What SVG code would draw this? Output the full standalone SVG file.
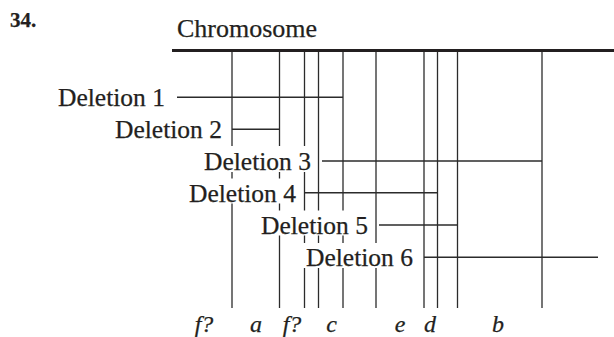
<svg xmlns="http://www.w3.org/2000/svg" width="614" height="337" viewBox="0 0 614 337">
<style>
.t{font-family:"Liberation Serif","Times New Roman",serif;fill:#231f20;stroke:#231f20;stroke-width:0.25}
.lab{font-size:25.5px}
.it{font-size:24px;font-style:italic;text-anchor:middle}
.v{stroke:#2b2b2b;stroke-width:1.3;fill:none}
.h{stroke:#2b2b2b;stroke-width:1.4;fill:none}
.ko{fill:#ffffff}
</style>
<rect width="614" height="337" fill="#ffffff"/>
<g id="header">
<text class="t" x="10" y="27" font-size="21" font-weight="bold">34.</text>
<text class="t" x="177" y="37" font-size="26">Chromosome</text>
<line x1="172" y1="50.5" x2="614" y2="50.5" stroke="#231f20" stroke-width="3"/>
</g>
<g id="connectors">
<g id="loci">
<line class="v" x1="232" y1="52" x2="232" y2="308"/>
<line class="v" x1="279.5" y1="52" x2="279.5" y2="308"/>
<line class="v" x1="304.5" y1="52" x2="304.5" y2="308"/>
<line class="v" x1="318.5" y1="52" x2="318.5" y2="308"/>
<line class="v" x1="343" y1="52" x2="343" y2="308"/>
<line class="v" x1="376" y1="52" x2="376" y2="308"/>
<line class="v" x1="424" y1="52" x2="424" y2="308"/>
<line class="v" x1="437.5" y1="52" x2="437.5" y2="308"/>
<line class="v" x1="457.5" y1="52" x2="457.5" y2="308"/>
<line class="v" x1="542" y1="52" x2="542" y2="308"/>
</g>
<line class="h" x1="177" y1="97.3" x2="343" y2="97.3"/>
<line class="h" x1="232" y1="129.3" x2="279.5" y2="129.3"/>
<line class="h" x1="322" y1="161" x2="542" y2="161"/>
<line class="h" x1="304.5" y1="192.7" x2="437.5" y2="192.7"/>
<line class="h" x1="379" y1="225" x2="457.5" y2="225"/>
<line class="h" x1="424" y1="257.3" x2="598" y2="257.3"/>
</g>
<g id="deletion-1">
<text class="t lab" x="58" y="106">Deletion 1</text>
</g>
<g id="deletion-2">
<text class="t lab" x="115" y="138">Deletion 2</text>
</g>
<g id="deletion-3">
<rect class="ko" x="201" y="146" width="114" height="26"/>
<text class="t lab" x="204" y="170">Deletion 3</text>
</g>
<g id="deletion-4">
<rect class="ko" x="186" y="178.5" width="115" height="25"/>
<text class="t lab" x="189" y="201.5">Deletion 4</text>
</g>
<g id="deletion-5">
<rect class="ko" x="258" y="210.5" width="115" height="25"/>
<text class="t lab" x="261" y="233.5">Deletion 5</text>
</g>
<g id="deletion-6">
<rect class="ko" x="302" y="243" width="116" height="25"/>
<text class="t lab" x="306" y="266">Deletion 6</text>
</g>
<g id="genes">
<text class="t it" x="204" y="332">f?</text>
<text class="t it" x="256" y="332">a</text>
<text class="t it" x="292" y="332">f?</text>
<text class="t it" x="331.5" y="332">c</text>
<text class="t it" x="400" y="332">e</text>
<text class="t it" x="430" y="332">d</text>
<text class="t it" x="498" y="332">b</text>
</g>
</svg>
